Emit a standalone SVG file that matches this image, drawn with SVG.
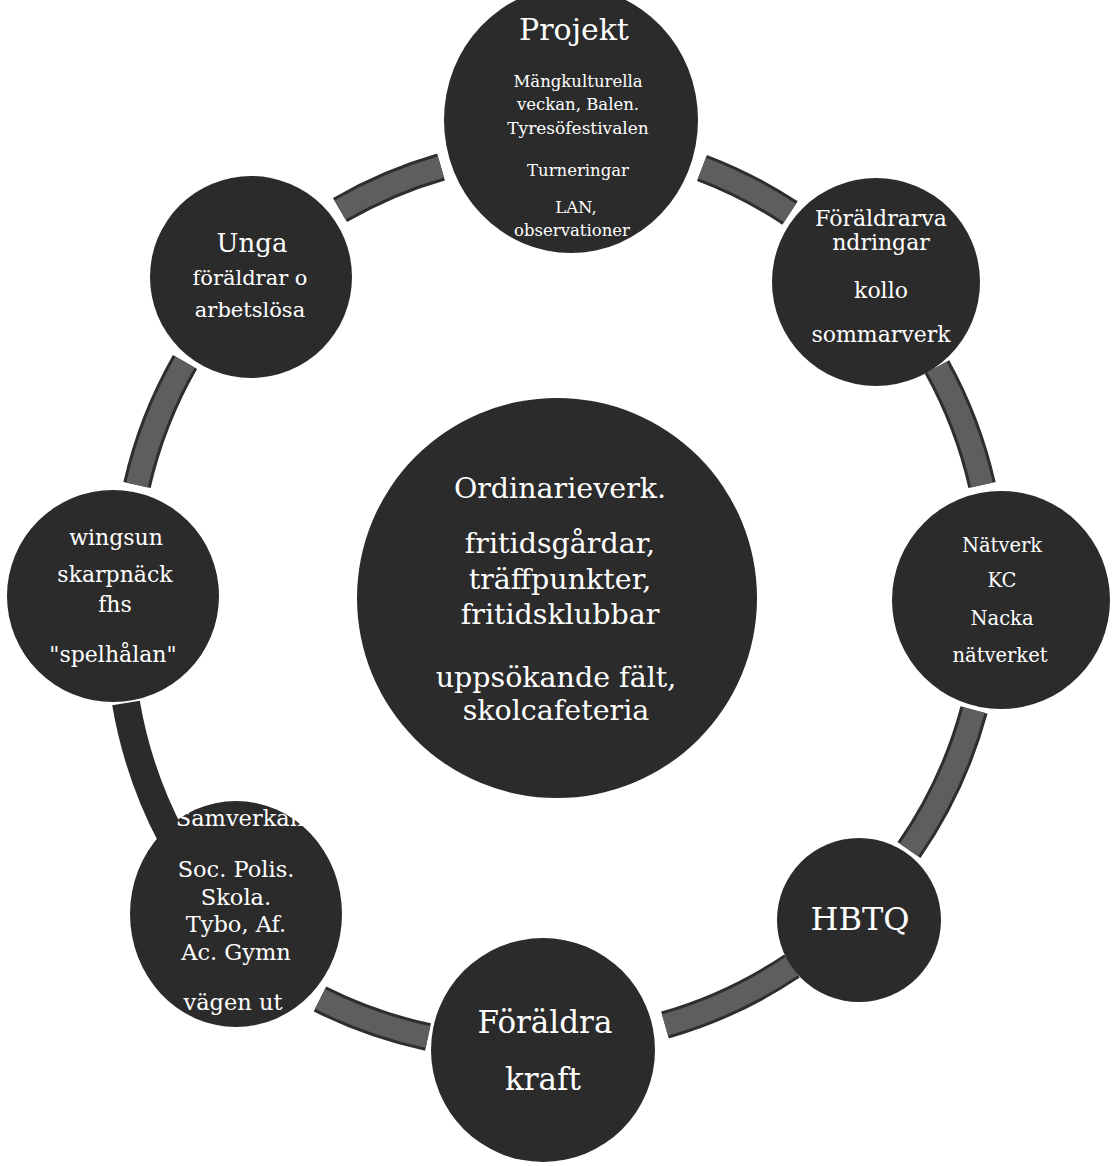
<svg xmlns="http://www.w3.org/2000/svg" width="1114" height="1166" viewBox="0 0 1114 1166">
<style>
.node{fill:#2b2b2b}
.t{fill:#ffffff;font-family:"DejaVu Serif","Liberation Serif",serif;text-anchor:middle}
.segO{fill:none;stroke:#2e2e2e;stroke-width:28}
.segI{fill:none;stroke:#5e5e5e;stroke-width:22}
.segD{fill:none;stroke:#2b2b2b;stroke-width:28}
</style>
<rect width="1114" height="1166" fill="#ffffff"/>
<g id="connectors">
  <path class="segO" d="M340,210 A450,450 0 0 1 441,167"/>
  <path class="segI" d="M340,210 A450,450 0 0 1 441,167"/>
  <path class="segO" d="M702,168 A450,450 0 0 1 790,213"/>
  <path class="segI" d="M702,168 A450,450 0 0 1 790,213"/>
  <path class="segO" d="M937,367 A450,450 0 0 1 982,485"/>
  <path class="segI" d="M937,367 A450,450 0 0 1 982,485"/>
  <path class="segO" d="M974,710 A450,450 0 0 1 909,850"/>
  <path class="segI" d="M974,710 A450,450 0 0 1 909,850"/>
  <path class="segO" d="M792,966 A450,450 0 0 1 665,1025"/>
  <path class="segI" d="M792,966 A450,450 0 0 1 665,1025"/>
  <path class="segO" d="M428,1037 A450,450 0 0 1 320,999"/>
  <path class="segI" d="M428,1037 A450,450 0 0 1 320,999"/>
  <path class="segD" d="M172,838 A450,450 0 0 1 126,703"/>
  <path class="segO" d="M137,485 A450,450 0 0 1 185,362"/>
  <path class="segI" d="M137,485 A450,450 0 0 1 185,362"/>
</g>
<g id="node-center">
  <circle class="node" cx="557" cy="598" r="200"/>
  <text class="t" font-size="28.5" x="560" y="498">Ordinarieverk.</text>
  <text class="t" font-size="28.5" x="560" y="553">fritidsgårdar,</text>
  <text class="t" font-size="28.5" x="560" y="589">träffpunkter,</text>
  <text class="t" font-size="28.5" x="560" y="624">fritidsklubbar</text>
  <text class="t" font-size="28.5" x="556" y="687">uppsökande fält,</text>
  <text class="t" font-size="28.5" x="556" y="720">skolcafeteria</text>
</g>
<g id="node-projekt">
  <ellipse class="node" cx="571" cy="120" rx="127" ry="133"/>
  <text class="t" font-size="30" x="574" y="40">Projekt</text>
  <text class="t" font-size="16.5" x="578" y="87">Mängkulturella</text>
  <text class="t" font-size="16.5" x="578" y="110">veckan, Balen.</text>
  <text class="t" font-size="17" x="578" y="134">Tyresöfestivalen</text>
  <text class="t" font-size="16.5" x="578" y="176">Turneringar</text>
  <text class="t" font-size="16.5" x="576" y="213">LAN,</text>
  <text class="t" font-size="16.5" x="572" y="236">observationer</text>
</g>
<g id="node-foraldrarvandringar">
  <circle class="node" cx="876" cy="282" r="104"/>
  <text class="t" font-size="22" x="881" y="226">Föräldrarva</text>
  <text class="t" font-size="22" x="881" y="250">ndringar</text>
  <text class="t" font-size="22" x="881" y="298">kollo</text>
  <text class="t" font-size="22" x="881" y="342">sommarverk</text>
</g>
<g id="node-natverk">
  <circle class="node" cx="1001" cy="600" r="109"/>
  <text class="t" font-size="19.5" x="1002" y="552">Nätverk</text>
  <text class="t" font-size="19.5" x="1002" y="587">KC</text>
  <text class="t" font-size="19.5" x="1002" y="625">Nacka</text>
  <text class="t" font-size="19.5" x="1000" y="662">nätverket</text>
</g>
<g id="node-hbtq">
  <circle class="node" cx="859" cy="920" r="82"/>
  <text class="t" font-size="32" x="860" y="930">HBTQ</text>
</g>
<g id="node-foraldrakraft">
  <circle class="node" cx="543" cy="1050" r="112"/>
  <text class="t" font-size="31" x="545" y="1033">Föräldra</text>
  <text class="t" font-size="31" x="543" y="1090">kraft</text>
</g>
<g id="node-samverkan">
  <ellipse class="node" cx="236" cy="914" rx="106" ry="113"/>
  <text class="t" font-size="22.5" x="240" y="826">Samverkan</text>
  <text class="t" font-size="22.5" x="236" y="877">Soc. Polis.</text>
  <text class="t" font-size="22.5" x="236" y="905">Skola.</text>
  <text class="t" font-size="22.5" x="236" y="932">Tybo, Af.</text>
  <text class="t" font-size="22.5" x="236" y="960">Ac. Gymn</text>
  <text class="t" font-size="22.5" x="233" y="1010">vägen ut</text>
</g>
<g id="node-wingsun">
  <circle class="node" cx="113" cy="596" r="106"/>
  <text class="t" font-size="22" x="116" y="545">wingsun</text>
  <text class="t" font-size="22" x="115" y="582">skarpnäck</text>
  <text class="t" font-size="22" x="115" y="612">fhs</text>
  <text class="t" font-size="22" x="113" y="662">"spelhålan"</text>
</g>
<g id="node-unga">
  <circle class="node" cx="251" cy="277" r="101"/>
  <text class="t" font-size="26" x="252" y="252">Unga</text>
  <text class="t" font-size="21" x="250" y="285">föräldrar o</text>
  <text class="t" font-size="21" x="250" y="317">arbetslösa</text>
</g>
</svg>
